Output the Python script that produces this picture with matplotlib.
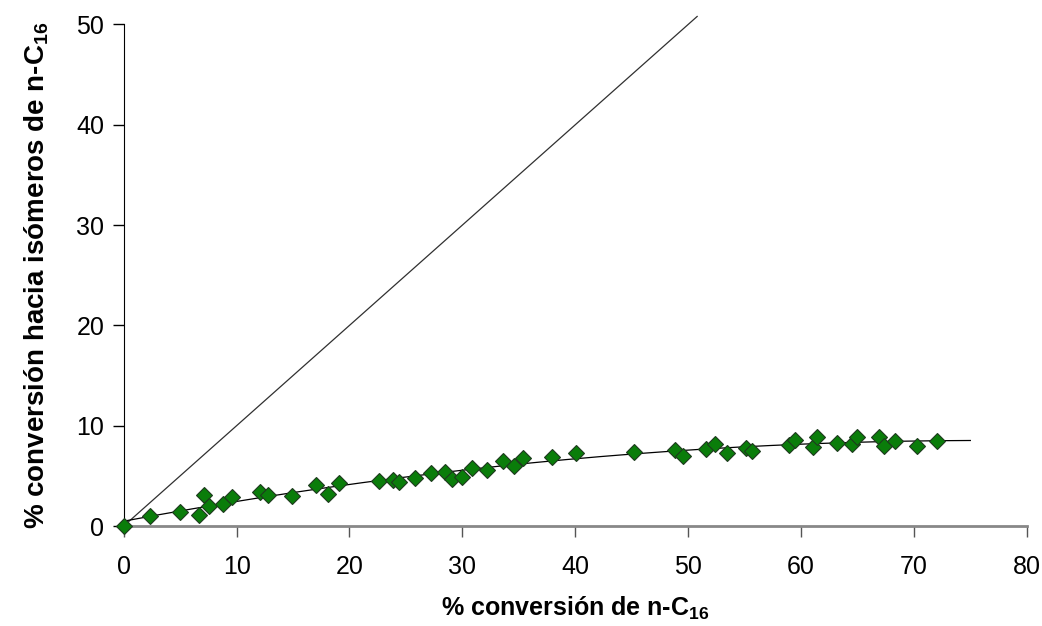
import numpy as np
import matplotlib
matplotlib.use("Agg")
import matplotlib.pyplot as plt

# conversion of n-C16 (%) vs conversion to isomers (%)
conv_x = [0.0, 2.35, 4.98, 6.63, 7.14, 7.58, 8.82, 9.59, 12.10, 12.81, 14.88,
          17.0, 18.07, 19.1, 22.59, 23.83, 24.36, 25.84, 27.26, 28.45, 29.1,
          29.95, 30.83, 32.16, 33.58, 34.56, 35.36, 37.93, 40.09, 45.17,
          48.87, 49.54, 51.55, 52.35, 53.48, 55.1, 55.66, 58.94, 59.5, 61.06,
          61.42, 63.17, 64.56, 64.96, 66.89, 67.31, 68.33, 70.26, 72.03]
iso_y = [0.0, 1.0, 1.40, 1.07, 3.09, 1.99, 2.19, 2.92, 3.39, 3.12, 2.96,
         4.06, 3.22, 4.29, 4.46, 4.56, 4.39, 4.79, 5.28, 5.38, 4.72,
         4.89, 5.75, 5.55, 6.45, 5.98, 6.78, 6.91, 7.25, 7.38,
         7.58, 7.01, 7.71, 8.15, 7.25, 7.78, 7.48, 8.05, 8.57, 7.91,
         8.84, 8.31, 8.18, 8.84, 8.90, 7.98, 8.50, 7.98, 8.50]

# 1:1 reference line (total conversion)
diag_x = [0, 50.8]
diag_y = [0, 50.8]

x_ticks = [0, 10, 20, 30, 40, 50, 60, 70, 80]
y_ticks = [0, 10, 20, 30, 40, 50]

plt.rcParams["font.family"] = ["Liberation Sans", "DejaVu Sans"]
plt.rcParams["mathtext.fontset"] = "custom"
plt.rcParams["mathtext.bf"] = "Liberation Sans:bold"
plt.rcParams["mathtext.rm"] = "Liberation Sans:bold"

fig = plt.figure(figsize=(10.42, 6.26), dpi=100)
ax = fig.add_axes([0.1187, 0.1597, 0.8667, 0.8012])

ax.plot(diag_x, diag_y, color="#303030", lw=0.9, zorder=2, clip_on=False)

# polynomial trend line (fit of the data, like the spreadsheet trendline)
coef = np.polyfit(conv_x, iso_y, 2)
xf = np.linspace(0, 75, 200)
ax.plot(xf, np.polyval(coef, xf), color="black", lw=0.9, zorder=2)

ax.plot(conv_x, iso_y, linestyle="none", marker="D", ms=8.6,
        mfc="#0a7d0a", mec="#1e3a1e", mew=0.8, zorder=3, clip_on=False)

ax.set_xlim(0, 80)
ax.set_ylim(0, 50)
ax.set_xticks(x_ticks)
ax.set_yticks(y_ticks)
ax.tick_params(axis="both", labelsize=18, length=8, width=1, direction="out")
ax.tick_params(axis="x", colors="#555555", labelcolor="black", pad=13)
ax.tick_params(axis="y", pad=6)

for s in ["top", "right"]:
    ax.spines[s].set_visible(False)
ax.spines["left"].set_color("black")
ax.spines["bottom"].set_color("#888888")
ax.spines["bottom"].set_linewidth(2)

ax.set_xlabel(r"% conversión de n-C$_{\mathbf{16}}$", fontsize=18,
              fontweight="bold", labelpad=11)
ax.set_ylabel(r"% conversión hacia isómeros de n-C$_{\mathbf{16}}$",
              fontsize=20, fontweight="bold", labelpad=18)

fig.savefig("out.png", dpi=100)
